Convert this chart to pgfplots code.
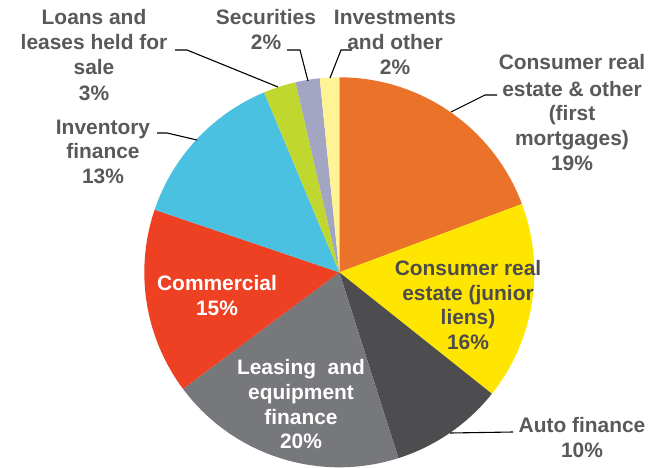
\documentclass[border=0pt]{standalone}
\usepackage{pgfplots}
\usepackage{pgfplotstable}
\usepackage{fontspec}
\setmainfont{Liberation Sans}
\pgfplotsset{compat=1.18}

\definecolor{cOrange}{RGB}{234,114,41}
\definecolor{cYellow}{RGB}{255,230,0}
\definecolor{cDark}{RGB}{77,77,79}
\definecolor{cGray}{RGB}{119,120,123}
\definecolor{cRed}{RGB}{238,65,36}
\definecolor{cBlue}{RGB}{74,193,224}
\definecolor{cGreen}{RGB}{192,215,48}
\definecolor{cLav}{RGB}{163,166,195}
\definecolor{cPale}{RGB}{255,243,150}
\definecolor{txt}{RGB}{89,89,89}

% shares in percent, clockwise from 12 o'clock
\pgfplotstableread[col sep=comma]{
pct,color
19.3,cOrange
16.4,cYellow
9.4,cDark
19.7,cGray
15.4,cRed
13.5,cBlue
2.7,cGreen
2.0,cLav
1.6,cPale
}\slices

% one line of a label: x, baseline y (image rows), text
\newcommand{\lbl}[4][txt]{\node[anchor=base,inner sep=0pt,text=#1,
  font=\fontsize{21}{25}\selectfont\bfseries] at (axis cs:#2,#3) {#4};}

\begin{document}
\begin{tikzpicture}
\begin{axis}[
  name=ax,
  width=664bp, height=468bp, scale only axis,
  xmin=0, xmax=664, ymin=0, ymax=468, y dir=reverse,
  hide axis, clip=false
]
\pgfplotsextra{
  \gdef\angA{90}
  \foreach \i in {0,...,8}{
    \pgfplotstablegetelem{\i}{pct}\of\slices \let\p\pgfplotsretval
    \pgfplotstablegetelem{\i}{color}\of\slices \let\c\pgfplotsretval
    \pgfmathsetmacro\angB{\angA-3.6*\p}
    \fill[\c] (axis cs:339.3,272.3) -- ++(\angA:195bp)
      arc[start angle=\angA, end angle=\angB, radius=195bp] -- cycle;
    \xdef\angA{\angB}
  }
}
% leader lines
\draw[black,line width=1.1pt] (axis cs:175,50) -- (axis cs:187,50) -- (axis cs:278,87);
\draw[black,line width=1.1pt] (axis cs:157,133) -- (axis cs:167,133) -- (axis cs:197,140);
\draw[black,line width=1.1pt] (axis cs:287,50) -- (axis cs:300,50) -- (axis cs:308,81);
\draw[black,line width=1.1pt] (axis cs:352,50) -- (axis cs:341,50) -- (axis cs:330,78);
\draw[black,line width=1.1pt] (axis cs:497,95) -- (axis cs:485,95) -- (axis cs:451,112);
\draw[black,line width=1.1pt] (axis cs:513,432) -- (axis cs:450,433);
% labels
\lbl{94}{25}{Loans and}
\lbl{94}{50}{leases held for}
\lbl{94}{75}{sale}
\lbl{94}{100}{3\%}
\lbl{103}{134}{Inventory}
\lbl{103}{158}{finance}
\lbl{103}{183}{13\%}
\lbl{266}{25}{Securities}
\lbl{266}{50}{2\%}
\lbl{395}{25}{Investments}
\lbl{395}{50}{and other}
\lbl{395}{75}{2\%}
\lbl{572}{70}{Consumer real}
\lbl{572}{96}{estate \& other}
\lbl{572}{120}{(first}
\lbl{572}{145}{mortgages)}
\lbl{572}{170}{19\%}
\lbl[black!70]{468}{275}{Consumer real}
\lbl[black!70]{468}{300}{estate (junior}
\lbl[black!70]{468}{324}{liens)}
\lbl[black!70]{468}{349}{16\%}
\lbl{582}{432}{Auto finance}
\lbl{582}{457}{10\%}
\lbl[white]{217}{290}{Commercial}
\lbl[white]{217}{315}{15\%}
\lbl[white]{301}{374}{Leasing\ \ and}
\lbl[white]{301}{399}{equipment}
\lbl[white]{301}{424}{finance}
\lbl[white]{301}{448}{20\%}
\end{axis}
\pgfresetboundingbox
\path (ax.south west) rectangle (ax.north east);
\end{tikzpicture}
\end{document}
